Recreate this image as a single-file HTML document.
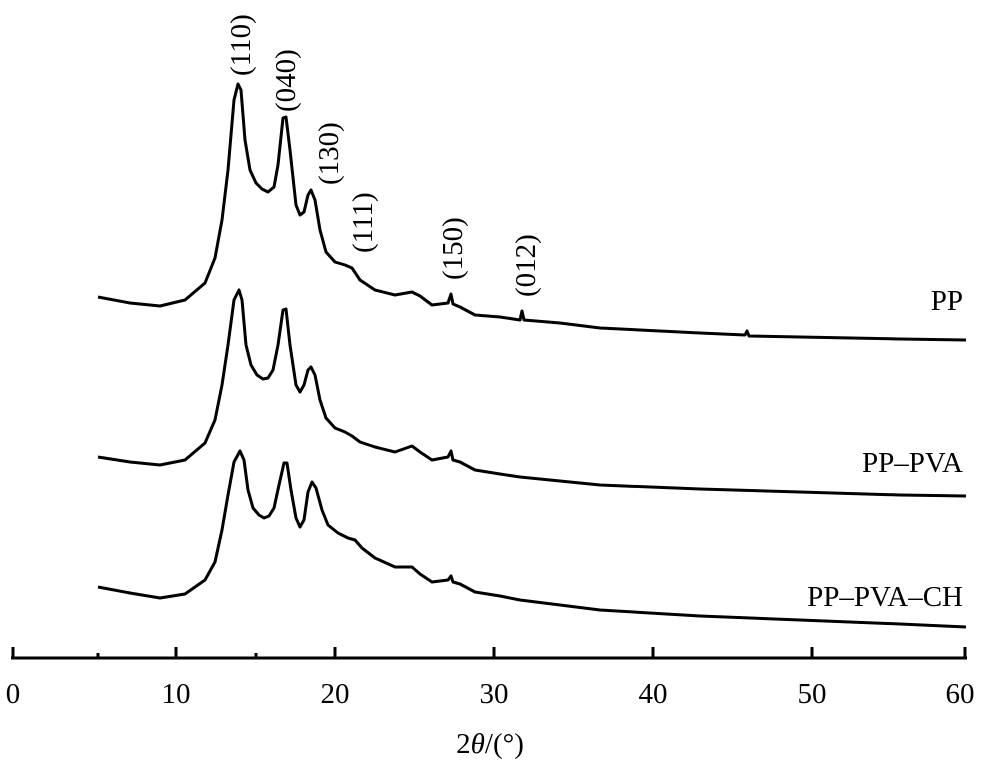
<!DOCTYPE html>
<html><head><meta charset="utf-8"><style>body{margin:0;background:#fff}svg{display:block}text{font-family:"Liberation Serif",serif;fill:#000}</style></head><body>
<svg width="1000" height="771" viewBox="0 0 1000 771" xmlns="http://www.w3.org/2000/svg">
<g fill="none" stroke="#000" stroke-width="3" stroke-linejoin="round">
<polyline points="98,297 130,303 160,306 185,300 205,283 215,258 222,220 228,170 234,100 238,84 241,90 245,140 250,170 256,183 262,189 268,192 274,187 278,165 283,118 286,117 290,150 296,205 300,215 304,212 308,195 311,190 315,200 320,230 326,252 335,262 345,265 352,268 360,280 375,290 395,295 412,292 420,296 432,305 448,303 451,294 453,304 460,307 475,315 500,317 520,320 522,311 524,320 560,323 600,328 700,333 745,335 747,331 749,336 800,337 900,339 966,340"/>
<polyline points="98,457 130,462 160,465 185,460 205,443 215,420 222,385 228,345 234,300 239,290 242,300 246,345 251,365 257,375 263,379 268,378 273,370 278,345 283,310 286,309 290,345 296,385 300,392 304,385 308,370 311,367 315,375 320,400 326,418 335,428 345,432 352,436 360,442 375,447 395,452 412,446 420,452 432,460 448,457 451,451 453,460 460,462 475,470 500,474 520,477 560,481 600,485 700,489 800,492 900,495 966,496"/>
<polyline points="98,587 130,593 160,598 185,594 205,580 215,562 222,530 228,495 234,462 240,451 244,460 248,490 253,508 259,515 264,518 269,516 274,508 279,485 284,463 287,463 291,490 296,518 300,527 304,520 308,492 312,482 316,488 322,510 328,525 338,533 348,538 355,540 362,548 375,558 395,567 412,567 420,574 432,582 448,580 451,576 453,582 460,584 475,592 500,596 520,600 560,605 600,610 700,616 800,620 900,624 966,627"/>
</g>
<g stroke="#000" stroke-width="3">
<line x1="11" y1="658" x2="967" y2="658"/>
<line x1="13" y1="647" x2="13" y2="659"/><line x1="176" y1="647" x2="176" y2="659"/><line x1="335" y1="647" x2="335" y2="659"/><line x1="494" y1="647" x2="494" y2="659"/><line x1="653" y1="647" x2="653" y2="659"/><line x1="812" y1="647" x2="812" y2="659"/><line x1="965" y1="647" x2="965" y2="659"/>
<line x1="98" y1="653" x2="98" y2="659"/><line x1="256" y1="653" x2="256" y2="659"/>
</g>
<g font-size="29" text-anchor="middle">
<text x="13" y="703">0</text><text x="176" y="703">10</text><text x="335" y="703">20</text><text x="494" y="703">30</text><text x="653" y="703">40</text><text x="812" y="703">50</text><text x="960" y="703">60</text>
<text x="490" y="753">2<tspan font-style="italic">θ</tspan>/(°)</text>
</g>
<g font-size="29" text-anchor="end">
<text x="963" y="310">PP</text><text x="963" y="472">PP–PVA</text><text x="963" y="606">PP–PVA–CH</text>
</g>
<g font-size="29" text-anchor="start">
<text transform="translate(250,76) rotate(-90)">(110)</text>
<text transform="translate(295,112) rotate(-90)">(040)</text>
<text transform="translate(338,185) rotate(-90)">(130)</text>
<text transform="translate(372,253) rotate(-90)">(111)</text>
<text transform="translate(462,280) rotate(-90)">(150)</text>
<text transform="translate(535,297) rotate(-90)">(012)</text>
</g>
</svg>
</body></html>
